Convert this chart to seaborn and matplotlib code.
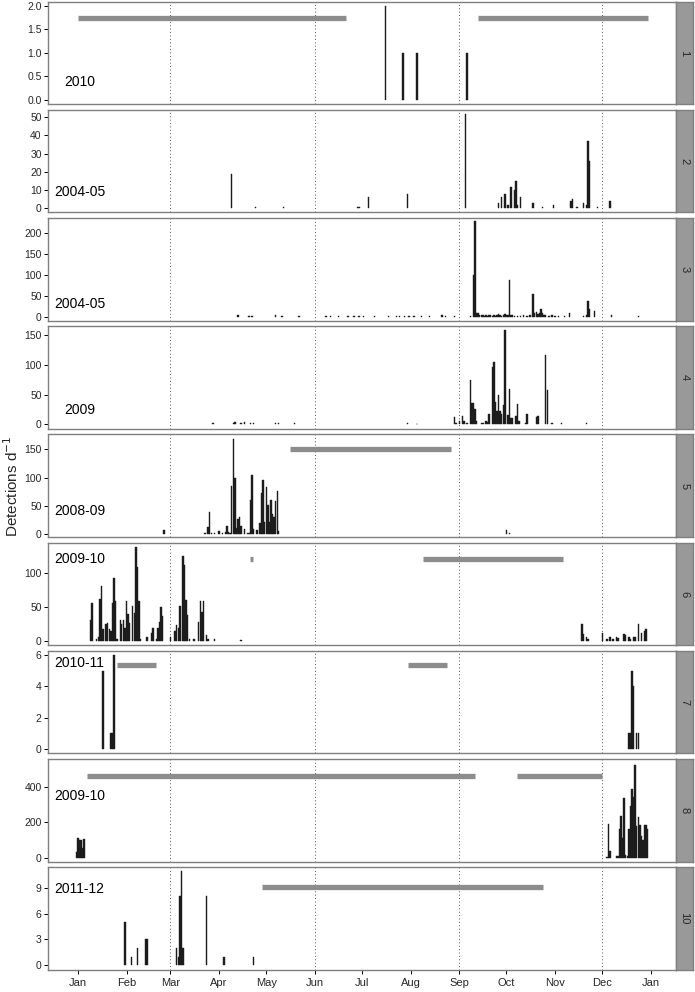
import numpy as np
import pandas as pd
import matplotlib
matplotlib.use('Agg')
import matplotlib.pyplot as plt
import seaborn as sns

sns.set_style('ticks')
plt.rcParams['font.family'] = ['Liberation Sans', 'DejaVu Sans']

# day of year (Jan 1 = 0) and detections per day, one pair per site
site1_days = [196, 207, 216, 248]
site1_n = [2, 1, 1, 1]

site2_days = [98, 113, 131, 178, 179, 185, 210, 247, 268, 270, 272, 274, 276, 278, 279, 280,
              282, 290, 296, 303, 314, 315, 318, 322, 324, 325, 326, 331, 339]
site2_n = [19, 1, 1, 1, 1, 6, 8, 52, 3, 6, 8, 2, 12, 10, 15, 2,
           6, 3, 1, 2, 4, 5, 1, 3, 2, 37, 26, 1, 4]

site3_days = [102, 109, 111, 126, 130, 141, 158, 161, 166, 172, 176, 179, 182, 189, 198, 203,
              205, 208, 211, 214, 219, 224, 232, 234, 240, 250, 252, 253, 254, 255, 256, 257,
              258, 259, 260, 261, 262, 263, 264, 265, 266, 267, 268, 269, 270, 271, 272, 273,
              274, 275, 276, 277, 278, 280, 282, 284, 286, 288, 290, 291, 292, 293, 294, 295,
              296, 297, 298, 300, 302, 304, 306, 310, 313, 322, 324, 325, 326, 329, 340, 357]
site3_n = [5, 1, 1, 5, 1, 1, 1, 1, 2, 2, 1, 3, 1, 1, 1, 3,
           2, 3, 2, 1, 1, 1, 4, 2, 1, 2, 100, 228, 10, 8, 5, 4,
           5, 3, 4, 3, 4, 5, 3, 4, 3, 5, 6, 4, 3, 5, 6, 4,
           5, 88, 5, 4, 3, 3, 2, 4, 3, 5, 55, 8, 12, 6, 8, 18,
           10, 5, 4, 3, 4, 3, 2, 3, 10, 2, 5, 38, 18, 15, 5, 3]

site4_days = [86, 99, 100, 104, 106, 110, 112, 126, 128, 138, 210, 216, 240, 241, 243, 245,
              246, 248, 250, 251, 252, 253, 254, 257, 258, 260, 261, 262, 264, 265, 266, 267,
              268, 269, 270, 271, 272, 274, 275, 276, 277, 279, 280, 281, 285, 286, 292, 293,
              298, 299, 302, 308, 324]
site4_n = [2, 3, 4, 3, 4, 3, 2, 2, 3, 3, 2, 1, 13, 3, 5, 14,
           5, 3, 74, 35, 35, 25, 5, 2, 3, 5, 4, 17, 96, 104, 37, 22,
           49, 22, 18, 32, 158, 15, 60, 10, 10, 14, 34, 5, 3, 17, 13, 14,
           116, 58, 2, 2, 3]

site5_days = [55, 81, 83, 84, 85, 87, 90, 92, 94, 95, 96, 97, 98, 99, 100, 101,
              102, 103, 104, 106, 108, 109, 110, 111, 112, 114, 116, 117, 118, 119, 120, 121,
              122, 123, 124, 125, 126, 127, 128, 243, 273, 275]
site5_n = [7, 3, 13, 40, 3, 2, 5, 3, 4, 14, 4, 2, 85, 168, 99, 12,
           27, 30, 15, 10, 2, 2, 60, 105, 10, 8, 20, 73, 95, 22, 83, 52,
           22, 60, 35, 30, 58, 76, 5, 1, 8, 2]

site6_days = [8, 9, 12, 13, 14, 15, 16, 18, 19, 20, 21, 22, 23, 24, 25, 27,
              28, 29, 30, 31, 32, 33, 35, 36, 37, 38, 39, 40, 44, 47, 48, 50,
              51, 52, 53, 54, 59, 62, 63, 64, 65, 67, 68, 69, 70, 71, 74, 77,
              78, 79, 80, 82, 83, 87, 104, 321, 322, 324, 325, 334, 337, 339, 341, 343,
              344, 348, 349, 351, 352, 354, 355, 357, 359, 361, 362]
site6_n = [31, 56, 2, 5, 61, 80, 17, 24, 26, 17, 15, 55, 92, 59, 3, 31,
           25, 30, 19, 59, 40, 26, 51, 41, 138, 109, 58, 2, 6, 11, 19, 3,
           19, 28, 50, 37, 6, 15, 23, 19, 51, 125, 112, 60, 38, 3, 2, 27,
           59, 43, 59, 9, 2, 3, 1, 24, 10, 5, 2, 12, 2, 5, 2, 6,
           4, 10, 8, 6, 2, 5, 5, 24, 12, 15, 18]

site7_days = [16, 21, 22, 23, 351, 352, 353, 354, 356, 357]
site7_n = [5, 1, 1, 6, 1, 1, 5, 4, 1, 1]

site8_days = [-1, 0, 1, 2, 3, 4, 337, 338, 339, 343, 344, 345, 346, 347, 348, 349,
              350, 351, 352, 353, 354, 355, 356, 357, 358, 359, 360, 361, 362, 363]
site8_n = [30, 110, 100, 98, 55, 108, 5, 190, 40, 10, 10, 160, 235, 110, 340, 15,
           10, 160, 290, 390, 345, 525, 180, 230, 185, 125, 100, 185, 185, 160]

site10_days = [30, 34, 38, 43, 44, 63, 64, 65, 66, 67, 82, 93, 112]
site10_n = [5, 1, 2, 3, 3, 2, 1, 8, 11, 2, 8, 1, 1]

# periods without recording (start day, end day) and the height they are drawn at
site1_gaps = [(0, 171), (255, 363)]
site5_gaps = [(135, 238)]
site6_gaps = [(109.5, 111.5), (220, 309)]
site7_gaps = [(25, 50), (210, 235)]
site8_gaps = [(6, 253), (280, 334)]
site10_gaps = [(117, 296)]

site_names = ['1', '2', '3', '4', '5', '6', '7', '8', '10']
seasons = ['2010', '2004-05', '2004-05', '2009', '2008-09', '2009-10', '2010-11', '2009-10', '2011-12']

month_starts = [0, 31, 59, 90, 120, 151, 181, 212, 243, 273, 304, 334, 365]
month_labels = ['Jan', 'Feb', 'Mar', 'Apr', 'May', 'Jun', 'Jul', 'Aug', 'Sep', 'Oct', 'Nov', 'Dec', 'Jan']
season_lines = [59, 151, 243, 334]

panels = [
    (site1_days, site1_n, site1_gaps, 1.75, (-0.09, 2.09), [0, 0.5, 1.0, 1.5, 2.0], 0.22),
    (site2_days, site2_n, [], None, (-2.2, 54), [0, 10, 20, 30, 40, 50], 0.20),
    (site3_days, site3_n, [], None, (-9, 236), [0, 50, 100, 150, 200], 0.16),
    (site4_days, site4_n, [], None, (-7.3, 164), [0, 50, 100, 150], 0.18),
    (site5_days, site5_n, site5_gaps, 150, (-4.7, 176), [0, 50, 100, 150], 0.25),
    (site6_days, site6_n, site6_gaps, 120, (-6.4, 144), [0, 50, 100], 0.84),
    (site7_days, site7_n, site7_gaps, 5.34, (-0.28, 6.25), [0, 2, 4, 6], 0.88),
    (site8_days, site8_n, site8_gaps, 460, (-22, 558), [0, 200, 400], 0.64),
    (site10_days, site10_n, site10_gaps, 9.15, (-0.54, 11.4), [0, 3, 6, 9], 0.79),
]

W, H = 695, 992
fig = plt.figure(figsize=(W / 100, H / 100), dpi=100)

left, right = 48, 676
ph, step = 102.5, 108.2
frame_col = '#7f7f7f'

for i, (days, n, gaps, gap_y, ylim, yticks, label_y) in enumerate(panels):
    top = 1.7 + i * step
    ax = fig.add_axes([left / W, 1 - (top + ph) / H, (right - left) / W, ph / H])
    for m in season_lines:
        ax.axvline(m, color='#555555', ls=(0, (1, 2.5)), lw=0.7, zorder=0)

    df = pd.DataFrame({'day': days, 'n': n})
    sns.histplot(data=df, x='day', weights='n', discrete=True, shrink=0.9,
                 color='#1c1c1c', edgecolor='#1c1c1c', linewidth=0.3, alpha=1, ax=ax)
    # drop the empty bins so no baseline is drawn between detections
    for p in list(ax.patches):
        if p.get_height() == 0:
            p.remove()

    for g0, g1 in gaps:
        ax.hlines(gap_y, g0, g1, color='#8c8c8c', lw=3.8, capstyle='butt', zorder=3)

    ax.set_xlim(-19, 381)
    ax.set_ylim(*ylim)
    ax.set_yticks(yticks)
    if i == 0:
        ax.set_yticklabels([f'{v:.1f}' for v in yticks])
    ax.set_xlabel('')
    ax.set_ylabel('')
    ax.tick_params(axis='y', direction='out', length=3, width=0.7, color='black',
                   labelsize=7.5, pad=1.5, left=True)
    if i == len(panels) - 1:
        ax.set_xticks(month_starts)
        ax.set_xticklabels(month_labels)
        ax.tick_params(axis='x', direction='out', length=3, width=0.7, color='black',
                       labelsize=8, pad=3, bottom=True)
    else:
        ax.set_xticks([])
    for sp in ax.spines.values():
        sp.set_visible(True)
        sp.set_color(frame_col)
        sp.set_linewidth(1.0)

    ax.text(1, label_y, seasons[i], transform=ax.get_xaxis_transform(),
            ha='center', va='center', fontsize=10, color='black', zorder=5)

    # strip with the site number
    sax = fig.add_axes([right / W, 1 - (top + ph) / H, (693 - right) / W, ph / H])
    sax.set_facecolor('#999999')
    sax.set_xticks([])
    sax.set_yticks([])
    for sp in sax.spines.values():
        sp.set_color(frame_col)
        sp.set_linewidth(1.0)
    sax.text(0.5, 0.5, site_names[i], rotation=-90, ha='center', va='center',
             fontsize=8, transform=sax.transAxes)

fig.text(12 / W, 1 - 486 / H, 'Detections d$^{-1}$', rotation=90,
         ha='center', va='center', fontsize=11)

fig.savefig('out.png', dpi=100)
